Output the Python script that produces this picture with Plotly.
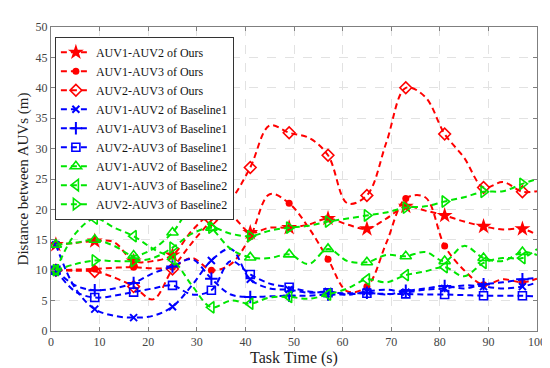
import plotly.graph_objects as go

# ---------------- data ----------------
t = [1, 5, 9, 13, 17, 21, 25, 29, 33, 37, 41, 45, 49, 53, 57, 61, 65, 69, 73, 77, 81, 85, 89, 93, 97, 100]
marker_times = [1, 9, 17, 25, 33, 41, 49, 57, 65, 73, 81, 89, 97]

ours_12 = [14.2, 14.5, 14.8, 14.6, 11.5, 11.5, 12.5, 16.5, 19.2, 19.0, 16.2, 17.0, 17.0, 17.5, 18.5, 17.5, 16.8, 18.5, 20.5, 19.8, 19.0, 18.0, 17.2, 16.7, 16.8, 15.8]
ours_13 = [10.0, 10.1, 10.2, 10.4, 10.5, 10.3, 10.5, 12.0, 10.0, 11.0, 15.5, 22.5, 21.0, 17.0, 11.8, 6.5, 7.3, 14.5, 21.8, 22.0, 14.0, 10.0, 7.6, 8.5, 8.0, 8.6]
ours_23 = [10.0, 9.9, 9.8, 8.8, 7.3, 5.2, 10.2, 14.5, 18.2, 21.5, 26.9, 33.8, 32.6, 31.8, 28.9, 21.0, 22.3, 31.0, 40.0, 38.5, 32.4, 28.5, 23.6, 24.5, 22.9, 23.0]

b1_12 = [14.2, 7.0, 3.6, 2.5, 2.2, 2.5, 4.0, 7.5, 11.6, 13.5, 8.5, 7.0, 6.8, 6.3, 6.5, 6.0, 6.5, 6.8, 6.4, 6.8, 7.0, 7.5, 7.3, 7.0, 7.3, 8.0]
b1_13 = [10.0, 7.5, 6.7, 7.0, 7.9, 9.5, 10.6, 11.8, 8.6, 6.0, 5.6, 5.7, 5.8, 5.8, 6.0, 6.0, 6.3, 6.0, 6.6, 7.0, 7.4, 7.0, 7.7, 8.0, 8.5, 8.7]
b1_23 = [10.0, 6.5, 5.5, 5.8, 6.4, 7.0, 7.5, 6.0, 6.7, 11.5, 9.3, 7.8, 7.2, 6.5, 6.3, 6.2, 6.2, 6.1, 6.1, 6.0, 6.0, 5.9, 5.8, 5.8, 5.8, 5.7]

b2_12 = [14.2, 14.5, 15.0, 14.0, 12.4, 13.5, 16.2, 20.0, 17.0, 13.5, 12.1, 12.0, 12.6, 11.0, 13.5, 11.5, 11.3, 12.5, 12.3, 13.0, 11.5, 14.0, 12.0, 11.5, 13.0, 12.5]
b2_13 = [10.0, 16.0, 18.5, 17.0, 15.6, 13.5, 11.8, 7.5, 3.9, 5.0, 4.5, 5.5, 5.6, 5.3, 6.0, 7.0, 8.5, 8.0, 9.2, 9.8, 10.5, 9.0, 11.2, 12.0, 12.0, 13.5]
b2_23 = [10.0, 11.0, 11.6, 11.5, 11.5, 12.0, 13.7, 16.0, 17.0, 16.0, 15.6, 16.5, 17.0, 17.3, 18.0, 18.5, 19.0, 19.5, 20.3, 20.5, 21.3, 22.0, 22.9, 23.0, 24.2, 25.0]

names = [
    "AUV1-AUV2 of Ours", "AUV1-AUV3 of Ours", "AUV2-AUV3 of Ours",
    "AUV1-AUV2 of Baseline1", "AUV1-AUV3 of Baseline1", "AUV2-AUV3 of Baseline1",
    "AUV1-AUV2 of Baseline2", "AUV1-AUV3 of Baseline2", "AUV2-AUV3 of Baseline2",
]
series = [ours_12, ours_13, ours_23, b1_12, b1_13, b1_23, b2_12, b2_13, b2_23]

# ---------------- styles ----------------
RED, BLUE, GREEN = "#ff0000", "#0000ff", "#00e600"
styles = [
    (RED, "star", 12, 0),
    (RED, "circle", 7, 0),
    (RED, "diamond-open", 9, 1.6),
    (BLUE, "x-thin-open", 7, 2),
    (BLUE, "cross-thin-open", 9, 2),
    (BLUE, "square-open", 8, 1.6),
    (GREEN, "triangle-up-open", 10, 1.6),
    (GREEN, "triangle-left-open", 10, 1.6),
    (GREEN, "triangle-right-open", 10, 1.6),
]

fig = go.Figure()
for name, vals, (col, sym, size, mlw) in zip(names, series, styles):
    cols = [col if ti in marker_times else "rgba(0,0,0,0)" for ti in t]
    fig.add_trace(go.Scatter(
        x=t, y=vals, name=name, mode="lines+markers",
        line=dict(color=col, width=2, dash="6px,4px", shape="spline", smoothing=1.0),
        marker=dict(symbol=sym, size=size, color=cols,
                    line=dict(width=mlw, color=cols)),
    ))

FONT = "Liberation Serif"
axis_common = dict(
    showline=True, linecolor="#7f7f7f", linewidth=1, mirror="ticks",
    ticks="inside", ticklen=4, tickcolor="#7f7f7f",
    showgrid=True, gridcolor="#e2e2e2", griddash="dash", gridwidth=1,
    zeroline=False, tickfont=dict(family=FONT, size=12, color="#444"),
)
fig.update_xaxes(range=[0, 100], dtick=10, tick0=0,
                 title=dict(text="Task Time (s)", font=dict(family=FONT, size=16, color="#222"), standoff=3),
                 **axis_common)
fig.update_yaxes(range=[0, 50], dtick=5, tick0=0,
                 title=dict(text="Distance between AUVs (m)", font=dict(family=FONT, size=15, color="#222"), standoff=3),
                 **axis_common)

fig.update_layout(
    width=550, height=368,
    margin=dict(l=43, r=15, t=15, b=43),
    paper_bgcolor="white", plot_bgcolor="white",
    showlegend=True,
    font=dict(family=FONT),
    legend=dict(x=0.008, y=0.968, xanchor="left", yanchor="top",
                bgcolor="white", bordercolor="#333", borderwidth=1,
                font=dict(family=FONT, size=12, color="#111"),
                tracegroupgap=0),
)
fig.write_html("out.html")
